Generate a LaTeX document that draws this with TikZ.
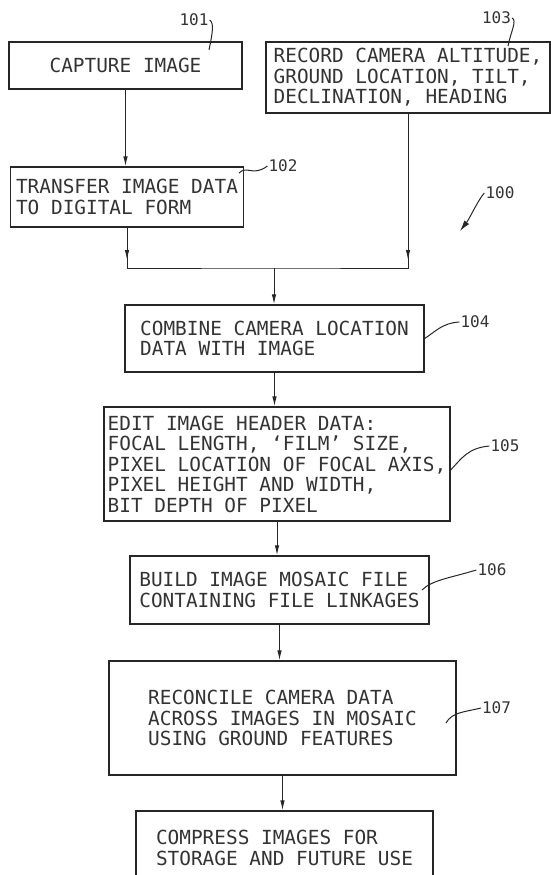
\documentclass[tikz,border=0pt]{standalone}
\usepackage{fontspec}
\setmonofont{DejaVu Sans Mono}
\usetikzlibrary{arrows.meta}

\tikzstyle{stepbox}=[draw=black!85, line width=1.3pt, align=left, inner xsep=2pt,
  text=black!80, font=\ttfamily\fontsize{19.4}{20.5}\selectfont]
\tikzstyle{flow}=[-{Latex[length=10pt,width=4.5pt]}, line width=1pt, draw=black!85]
\tikzstyle{refnum}=[text=black!80, inner sep=1pt, font=\ttfamily\fontsize{16}{16}\selectfont]
\tikzstyle{lead}=[line width=1pt, draw=black!85]

\begin{document}
\begin{tikzpicture}[x=1pt, y=-1pt]
  \useasboundingbox (0,0) rectangle (551,875);

  % steps
  \node[stepbox, minimum width=233, minimum height=47] (s101) at (125.5,65.5) {CAPTURE IMAGE};
  \node[stepbox, minimum width=284, minimum height=71] (s103) at (408,77.5)
    {RECORD CAMERA ALTITUDE,\\GROUND LOCATION, TILT,\\DECLINATION, HEADING};
  \node[stepbox, minimum width=233, minimum height=60] (s102) at (127,197)
    {TRANSFER IMAGE DATA\\TO DIGITAL FORM};
  \node[stepbox, minimum width=299, minimum height=67] (s104) at (274.5,338.5)
    {COMBINE CAMERA LOCATION\\DATA WITH IMAGE};
  \node[stepbox, minimum width=346, minimum height=114] (s105) at (277,464)
    {EDIT IMAGE HEADER DATA:\\FOCAL LENGTH, ‘FILM’ SIZE,\\PIXEL LOCATION OF FOCAL AXIS,\\PIXEL HEIGHT AND WIDTH,\\BIT DEPTH OF PIXEL};
  \node[stepbox, minimum width=299, minimum height=68] (s106) at (279.5,590)
    {BUILD IMAGE MOSAIC FILE\\CONTAINING FILE LINKAGES};
  \node[stepbox, minimum width=347, minimum height=114] (s107) at (282.5,718)
    {RECONCILE CAMERA DATA\\ACROSS IMAGES IN MOSAIC\\USING GROUND FEATURES};
  \node[stepbox, minimum width=297, minimum height=74] (s108) at (284.5,848)
    {COMPRESS IMAGES FOR\\STORAGE AND FUTURE USE};

  % reference numerals
  \node[refnum] (n101) at (194,20) {101};
  \node[refnum] (n103) at (496.5,18) {103};
  \node[refnum] (n102) at (283,166) {102};
  \node[refnum] (n100) at (500,193) {100};
  \node[refnum] (n104) at (475,322) {104};
  \node[refnum] (n105) at (505,446) {105};
  \node[refnum] (n106) at (492,570) {106};
  \node[refnum] (n107) at (496.5,708) {107};

  \coordinate (a101) at (209,50);
  \coordinate (a103) at (508,46);
  \coordinate (a102) at (239,173);
  \coordinate (a106) at (422,590);
  \coordinate (a107) at (446,723);
  \coordinate (p100) at (460,231);
  \coordinate (join) at (274,268);

  \draw[lead] (n101.east) .. controls +(5,3) and +(3,-15) .. (a101);
  \draw[lead] (n103.east) .. controls +(5,3) and +(3,-15) .. (a103);
  \draw[lead] (a102) .. controls (247,165) and (253,177) .. (n102.west);
  \draw[lead, -{Latex[length=11pt,width=6pt]}] (n100.west) .. controls (478,200) and (470,218) .. (p100);
  \draw[lead] (s104.east) .. controls (435,332) and (442,323) .. (n104.west);
  \draw[lead] ([yshift=-6pt]s105.east) .. controls (462,458) and (468,448) .. (n105.west);
  \draw[lead] (a106) .. controls (432,580) and (450,578) .. (n106.west);
  \draw[lead] (a107) .. controls (452,712) and (465,712) .. (n107.west);

  % flow
  \draw[flow] (s101.south) -- (s101.south |- s102.north);
  \draw[lead] (s102.south) |- (join) -| (s103.south);
  \draw[flow] (s102.south) -- ([yshift=8pt]s102.south |- join);
  \draw[flow] (s103.south) -- ([yshift=8pt]s103.south |- join);
  \draw[flow] (join) -- (join |- s104.north);
  \draw[flow] (s104.south) -- (s104.south |- s105.north);
  \draw[flow] (s105.south) -- (s105.south |- s106.north);
  \draw[flow] (s106.south) -- (s106.south |- s107.north);
  \draw[flow] (s107.south) -- (s107.south |- s108.north);
\end{tikzpicture}
\end{document}
